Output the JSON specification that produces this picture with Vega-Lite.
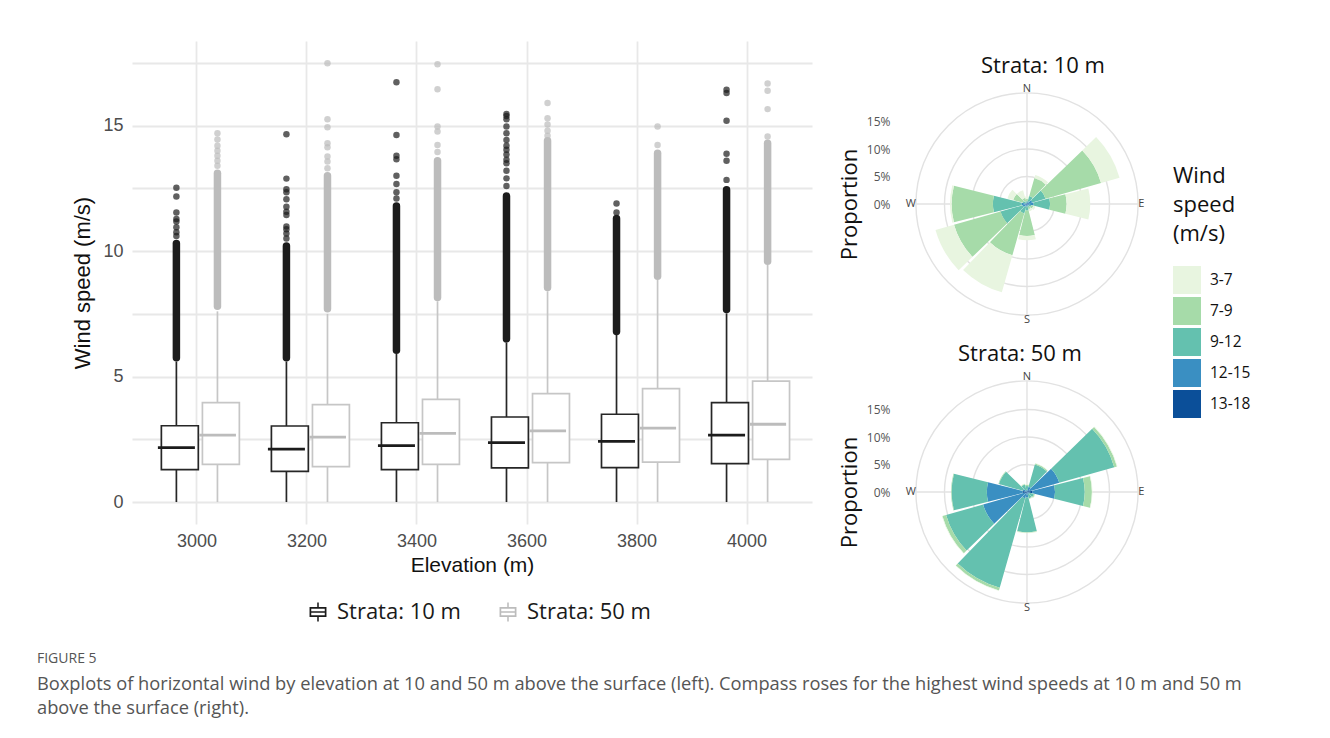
{
  "$schema": "https://vega.github.io/schema/vega-lite/v6.json",
  "background": "white",
  "padding": {"left": 36, "top": 38, "right": 5, "bottom": 5},
  "autosize": {"type": "pad"},
  "title": {
    "text": "FIGURE 5",
    "subtitle": ["Boxplots of horizontal wind by elevation at 10 and 50 m above the surface (left). Compass roses for the highest wind speeds at 10 m and 50 m", "above the surface (right)."],
    "orient": "bottom", "anchor": "start", "frame": "bounds", "dx": -35, "offset": 29,
    "font": "Open Sans", "fontSize": 14, "fontWeight": "normal", "color": "#555555",
    "subtitleFont": "Open Sans", "subtitleFontSize": 18.3, "subtitleColor": "#555555", "subtitleLineHeight": 24, "subtitlePadding": 10
  },
  "datasets": {
    "boxes": [
      {"elev": "3000", "strata": "Strata: 10 m", "lo": 0, "q1": 1.29, "med": 2.17, "q3": 3.04, "hi": 5.6, "dlo": 5.75, "dhi": 10.3},
      {"elev": "3000", "strata": "Strata: 50 m", "lo": 0, "q1": 1.50, "med": 2.67, "q3": 3.96, "hi": 7.6, "dlo": 7.8, "dhi": 13.1},
      {"elev": "3200", "strata": "Strata: 10 m", "lo": 0, "q1": 1.22, "med": 2.11, "q3": 3.03, "hi": 5.6, "dlo": 5.75, "dhi": 10.2},
      {"elev": "3200", "strata": "Strata: 50 m", "lo": 0, "q1": 1.41, "med": 2.59, "q3": 3.88, "hi": 7.5, "dlo": 7.7, "dhi": 13.0},
      {"elev": "3400", "strata": "Strata: 10 m", "lo": 0, "q1": 1.29, "med": 2.25, "q3": 3.16, "hi": 5.9, "dlo": 6.05, "dhi": 11.8},
      {"elev": "3400", "strata": "Strata: 50 m", "lo": 0, "q1": 1.50, "med": 2.74, "q3": 4.09, "hi": 8.0, "dlo": 8.15, "dhi": 13.6},
      {"elev": "3600", "strata": "Strata: 10 m", "lo": 0, "q1": 1.36, "med": 2.37, "q3": 3.39, "hi": 6.35, "dlo": 6.5, "dhi": 12.2},
      {"elev": "3600", "strata": "Strata: 50 m", "lo": 0, "q1": 1.57, "med": 2.84, "q3": 4.32, "hi": 8.4, "dlo": 8.55, "dhi": 14.4},
      {"elev": "3800", "strata": "Strata: 10 m", "lo": 0, "q1": 1.37, "med": 2.42, "q3": 3.5, "hi": 6.66, "dlo": 6.8, "dhi": 11.3},
      {"elev": "3800", "strata": "Strata: 50 m", "lo": 0, "q1": 1.59, "med": 2.95, "q3": 4.52, "hi": 8.85, "dlo": 9.0, "dhi": 13.9},
      {"elev": "4000", "strata": "Strata: 10 m", "lo": 0, "q1": 1.53, "med": 2.67, "q3": 3.96, "hi": 7.52, "dlo": 7.67, "dhi": 12.45},
      {"elev": "4000", "strata": "Strata: 50 m", "lo": 0, "q1": 1.70, "med": 3.1, "q3": 4.82, "hi": 9.45, "dlo": 9.6, "dhi": 14.3}
    ],
    "pts": [
      {"elev": "3000", "strata": "Strata: 10 m", "v": 10.6}, {"elev": "3000", "strata": "Strata: 10 m", "v": 10.75}, {"elev": "3000", "strata": "Strata: 10 m", "v": 10.95}, {"elev": "3000", "strata": "Strata: 10 m", "v": 11.18}, {"elev": "3000", "strata": "Strata: 10 m", "v": 11.28}, {"elev": "3000", "strata": "Strata: 10 m", "v": 11.54}, {"elev": "3000", "strata": "Strata: 10 m", "v": 12.18}, {"elev": "3000", "strata": "Strata: 10 m", "v": 12.53},
      {"elev": "3000", "strata": "Strata: 50 m", "v": 13.4}, {"elev": "3000", "strata": "Strata: 50 m", "v": 13.6}, {"elev": "3000", "strata": "Strata: 50 m", "v": 13.8}, {"elev": "3000", "strata": "Strata: 50 m", "v": 14.0}, {"elev": "3000", "strata": "Strata: 50 m", "v": 14.2}, {"elev": "3000", "strata": "Strata: 50 m", "v": 14.45}, {"elev": "3000", "strata": "Strata: 50 m", "v": 14.7},
      {"elev": "3200", "strata": "Strata: 10 m", "v": 10.5}, {"elev": "3200", "strata": "Strata: 10 m", "v": 10.7}, {"elev": "3200", "strata": "Strata: 10 m", "v": 10.87}, {"elev": "3200", "strata": "Strata: 10 m", "v": 10.98}, {"elev": "3200", "strata": "Strata: 10 m", "v": 11.44}, {"elev": "3200", "strata": "Strata: 10 m", "v": 11.57}, {"elev": "3200", "strata": "Strata: 10 m", "v": 11.77}, {"elev": "3200", "strata": "Strata: 10 m", "v": 12.07}, {"elev": "3200", "strata": "Strata: 10 m", "v": 12.35}, {"elev": "3200", "strata": "Strata: 10 m", "v": 12.47}, {"elev": "3200", "strata": "Strata: 10 m", "v": 12.89}, {"elev": "3200", "strata": "Strata: 10 m", "v": 14.66},
      {"elev": "3200", "strata": "Strata: 50 m", "v": 13.3}, {"elev": "3200", "strata": "Strata: 50 m", "v": 13.57}, {"elev": "3200", "strata": "Strata: 50 m", "v": 13.77}, {"elev": "3200", "strata": "Strata: 50 m", "v": 14.14}, {"elev": "3200", "strata": "Strata: 50 m", "v": 14.3}, {"elev": "3200", "strata": "Strata: 50 m", "v": 14.94}, {"elev": "3200", "strata": "Strata: 50 m", "v": 15.26}, {"elev": "3200", "strata": "Strata: 50 m", "v": 17.49},
      {"elev": "3400", "strata": "Strata: 10 m", "v": 12.1}, {"elev": "3400", "strata": "Strata: 10 m", "v": 12.35}, {"elev": "3400", "strata": "Strata: 10 m", "v": 12.68}, {"elev": "3400", "strata": "Strata: 10 m", "v": 13.0}, {"elev": "3400", "strata": "Strata: 10 m", "v": 13.66}, {"elev": "3400", "strata": "Strata: 10 m", "v": 13.8}, {"elev": "3400", "strata": "Strata: 10 m", "v": 14.63}, {"elev": "3400", "strata": "Strata: 10 m", "v": 16.73},
      {"elev": "3400", "strata": "Strata: 50 m", "v": 13.95}, {"elev": "3400", "strata": "Strata: 50 m", "v": 14.23}, {"elev": "3400", "strata": "Strata: 50 m", "v": 14.77}, {"elev": "3400", "strata": "Strata: 50 m", "v": 14.97}, {"elev": "3400", "strata": "Strata: 50 m", "v": 16.45}, {"elev": "3400", "strata": "Strata: 50 m", "v": 17.45},
      {"elev": "3600", "strata": "Strata: 10 m", "v": 12.6}, {"elev": "3600", "strata": "Strata: 10 m", "v": 12.9}, {"elev": "3600", "strata": "Strata: 10 m", "v": 13.2}, {"elev": "3600", "strata": "Strata: 10 m", "v": 13.5}, {"elev": "3600", "strata": "Strata: 10 m", "v": 13.64}, {"elev": "3600", "strata": "Strata: 10 m", "v": 13.85}, {"elev": "3600", "strata": "Strata: 10 m", "v": 14.04}, {"elev": "3600", "strata": "Strata: 10 m", "v": 14.2}, {"elev": "3600", "strata": "Strata: 10 m", "v": 14.43}, {"elev": "3600", "strata": "Strata: 10 m", "v": 14.7}, {"elev": "3600", "strata": "Strata: 10 m", "v": 14.97}, {"elev": "3600", "strata": "Strata: 10 m", "v": 15.26}, {"elev": "3600", "strata": "Strata: 10 m", "v": 15.39}, {"elev": "3600", "strata": "Strata: 10 m", "v": 15.47},
      {"elev": "3600", "strata": "Strata: 50 m", "v": 14.6}, {"elev": "3600", "strata": "Strata: 50 m", "v": 14.8}, {"elev": "3600", "strata": "Strata: 50 m", "v": 15.05}, {"elev": "3600", "strata": "Strata: 50 m", "v": 15.3}, {"elev": "3600", "strata": "Strata: 50 m", "v": 15.9},
      {"elev": "3800", "strata": "Strata: 10 m", "v": 11.54}, {"elev": "3800", "strata": "Strata: 10 m", "v": 11.9},
      {"elev": "3800", "strata": "Strata: 50 m", "v": 14.23}, {"elev": "3800", "strata": "Strata: 50 m", "v": 14.97},
      {"elev": "4000", "strata": "Strata: 10 m", "v": 12.84}, {"elev": "4000", "strata": "Strata: 10 m", "v": 13.6}, {"elev": "4000", "strata": "Strata: 10 m", "v": 13.88}, {"elev": "4000", "strata": "Strata: 10 m", "v": 15.2}, {"elev": "4000", "strata": "Strata: 10 m", "v": 16.3}, {"elev": "4000", "strata": "Strata: 10 m", "v": 16.43},
      {"elev": "4000", "strata": "Strata: 50 m", "v": 14.57}, {"elev": "4000", "strata": "Strata: 50 m", "v": 15.66}, {"elev": "4000", "strata": "Strata: 50 m", "v": 16.39}, {"elev": "4000", "strata": "Strata: 50 m", "v": 16.68}
    ],
    "rose": [
      {"strata": "10 m", "dir": 0, "speed": "13-18", "k": 5, "pct": 0.0}, {"strata": "10 m", "dir": 0, "speed": "12-15", "k": 4, "pct": 0.2}, {"strata": "10 m", "dir": 0, "speed": "9-12", "k": 3, "pct": 0.3}, {"strata": "10 m", "dir": 0, "speed": "7-9", "k": 2, "pct": 0.4}, {"strata": "10 m", "dir": 0, "speed": "3-7", "k": 1, "pct": 0.5},
      {"strata": "10 m", "dir": 30, "speed": "13-18", "k": 5, "pct": 0.1}, {"strata": "10 m", "dir": 30, "speed": "12-15", "k": 4, "pct": 0.4}, {"strata": "10 m", "dir": 30, "speed": "9-12", "k": 3, "pct": 1.0}, {"strata": "10 m", "dir": 30, "speed": "7-9", "k": 2, "pct": 3.4}, {"strata": "10 m", "dir": 30, "speed": "3-7", "k": 1, "pct": 0.6},
      {"strata": "10 m", "dir": 60, "speed": "13-18", "k": 5, "pct": 0.2}, {"strata": "10 m", "dir": 60, "speed": "12-15", "k": 4, "pct": 0.8}, {"strata": "10 m", "dir": 60, "speed": "9-12", "k": 3, "pct": 2.5}, {"strata": "10 m", "dir": 60, "speed": "7-9", "k": 2, "pct": 10.5}, {"strata": "10 m", "dir": 60, "speed": "3-7", "k": 1, "pct": 3.5},
      {"strata": "10 m", "dir": 90, "speed": "13-18", "k": 5, "pct": 0.3}, {"strata": "10 m", "dir": 90, "speed": "12-15", "k": 4, "pct": 0.9}, {"strata": "10 m", "dir": 90, "speed": "9-12", "k": 3, "pct": 3.0}, {"strata": "10 m", "dir": 90, "speed": "7-9", "k": 2, "pct": 3.0}, {"strata": "10 m", "dir": 90, "speed": "3-7", "k": 1, "pct": 4.3},
      {"strata": "10 m", "dir": 120, "speed": "13-18", "k": 5, "pct": 0.1}, {"strata": "10 m", "dir": 120, "speed": "12-15", "k": 4, "pct": 0.3}, {"strata": "10 m", "dir": 120, "speed": "9-12", "k": 3, "pct": 0.4}, {"strata": "10 m", "dir": 120, "speed": "7-9", "k": 2, "pct": 0.4}, {"strata": "10 m", "dir": 120, "speed": "3-7", "k": 1, "pct": 0.4},
      {"strata": "10 m", "dir": 150, "speed": "13-18", "k": 5, "pct": 0.1}, {"strata": "10 m", "dir": 150, "speed": "12-15", "k": 4, "pct": 0.2}, {"strata": "10 m", "dir": 150, "speed": "9-12", "k": 3, "pct": 0.3}, {"strata": "10 m", "dir": 150, "speed": "7-9", "k": 2, "pct": 0.4}, {"strata": "10 m", "dir": 150, "speed": "3-7", "k": 1, "pct": 0.4},
      {"strata": "10 m", "dir": 180, "speed": "13-18", "k": 5, "pct": 0.1}, {"strata": "10 m", "dir": 180, "speed": "12-15", "k": 4, "pct": 0.3}, {"strata": "10 m", "dir": 180, "speed": "9-12", "k": 3, "pct": 0.8}, {"strata": "10 m", "dir": 180, "speed": "7-9", "k": 2, "pct": 4.6}, {"strata": "10 m", "dir": 180, "speed": "3-7", "k": 1, "pct": 0.8},
      {"strata": "10 m", "dir": 210, "speed": "13-18", "k": 5, "pct": 0.1}, {"strata": "10 m", "dir": 210, "speed": "12-15", "k": 4, "pct": 0.4}, {"strata": "10 m", "dir": 210, "speed": "9-12", "k": 3, "pct": 1.3}, {"strata": "10 m", "dir": 210, "speed": "7-9", "k": 2, "pct": 7.9}, {"strata": "10 m", "dir": 210, "speed": "3-7", "k": 1, "pct": 7.0},
      {"strata": "10 m", "dir": 240, "speed": "13-18", "k": 5, "pct": 0.2}, {"strata": "10 m", "dir": 240, "speed": "12-15", "k": 4, "pct": 0.6}, {"strata": "10 m", "dir": 240, "speed": "9-12", "k": 3, "pct": 4.2}, {"strata": "10 m", "dir": 240, "speed": "7-9", "k": 2, "pct": 8.8}, {"strata": "10 m", "dir": 240, "speed": "3-7", "k": 1, "pct": 3.5},
      {"strata": "10 m", "dir": 270, "speed": "13-18", "k": 5, "pct": 0.2}, {"strata": "10 m", "dir": 270, "speed": "12-15", "k": 4, "pct": 0.8}, {"strata": "10 m", "dir": 270, "speed": "9-12", "k": 3, "pct": 5.2}, {"strata": "10 m", "dir": 270, "speed": "7-9", "k": 2, "pct": 7.5}, {"strata": "10 m", "dir": 270, "speed": "3-7", "k": 1, "pct": 0.3},
      {"strata": "10 m", "dir": 300, "speed": "13-18", "k": 5, "pct": 0.1}, {"strata": "10 m", "dir": 300, "speed": "12-15", "k": 4, "pct": 0.2}, {"strata": "10 m", "dir": 300, "speed": "9-12", "k": 3, "pct": 0.5}, {"strata": "10 m", "dir": 300, "speed": "7-9", "k": 2, "pct": 1.8}, {"strata": "10 m", "dir": 300, "speed": "3-7", "k": 1, "pct": 1.1},
      {"strata": "10 m", "dir": 330, "speed": "13-18", "k": 5, "pct": 0.0}, {"strata": "10 m", "dir": 330, "speed": "12-15", "k": 4, "pct": 0.2}, {"strata": "10 m", "dir": 330, "speed": "9-12", "k": 3, "pct": 0.3}, {"strata": "10 m", "dir": 330, "speed": "7-9", "k": 2, "pct": 0.7}, {"strata": "10 m", "dir": 330, "speed": "3-7", "k": 1, "pct": 1.4},
      {"strata": "50 m", "dir": 0, "speed": "13-18", "k": 5, "pct": 0.1}, {"strata": "50 m", "dir": 0, "speed": "12-15", "k": 4, "pct": 0.2}, {"strata": "50 m", "dir": 0, "speed": "9-12", "k": 3, "pct": 0.8}, {"strata": "50 m", "dir": 0, "speed": "7-9", "k": 2, "pct": 0.2}, {"strata": "50 m", "dir": 0, "speed": "3-7", "k": 1, "pct": 0.1},
      {"strata": "50 m", "dir": 30, "speed": "13-18", "k": 5, "pct": 0.2}, {"strata": "50 m", "dir": 30, "speed": "12-15", "k": 4, "pct": 0.8}, {"strata": "50 m", "dir": 30, "speed": "9-12", "k": 3, "pct": 4.2}, {"strata": "50 m", "dir": 30, "speed": "7-9", "k": 2, "pct": 0.2}, {"strata": "50 m", "dir": 30, "speed": "3-7", "k": 1, "pct": 0.1},
      {"strata": "50 m", "dir": 60, "speed": "13-18", "k": 5, "pct": 0.5}, {"strata": "50 m", "dir": 60, "speed": "12-15", "k": 4, "pct": 5.6}, {"strata": "50 m", "dir": 60, "speed": "9-12", "k": 3, "pct": 10.4}, {"strata": "50 m", "dir": 60, "speed": "7-9", "k": 2, "pct": 0.5}, {"strata": "50 m", "dir": 60, "speed": "3-7", "k": 1, "pct": 0.1},
      {"strata": "50 m", "dir": 90, "speed": "13-18", "k": 5, "pct": 1.0}, {"strata": "50 m", "dir": 90, "speed": "12-15", "k": 4, "pct": 4.1}, {"strata": "50 m", "dir": 90, "speed": "9-12", "k": 3, "pct": 5.4}, {"strata": "50 m", "dir": 90, "speed": "7-9", "k": 2, "pct": 1.3}, {"strata": "50 m", "dir": 90, "speed": "3-7", "k": 1, "pct": 0.1},
      {"strata": "50 m", "dir": 120, "speed": "13-18", "k": 5, "pct": 0.1}, {"strata": "50 m", "dir": 120, "speed": "12-15", "k": 4, "pct": 0.4}, {"strata": "50 m", "dir": 120, "speed": "9-12", "k": 3, "pct": 0.8}, {"strata": "50 m", "dir": 120, "speed": "7-9", "k": 2, "pct": 0.2}, {"strata": "50 m", "dir": 120, "speed": "3-7", "k": 1, "pct": 0.1},
      {"strata": "50 m", "dir": 150, "speed": "13-18", "k": 5, "pct": 0.1}, {"strata": "50 m", "dir": 150, "speed": "12-15", "k": 4, "pct": 0.3}, {"strata": "50 m", "dir": 150, "speed": "9-12", "k": 3, "pct": 0.8}, {"strata": "50 m", "dir": 150, "speed": "7-9", "k": 2, "pct": 0.1}, {"strata": "50 m", "dir": 150, "speed": "3-7", "k": 1, "pct": 0.1},
      {"strata": "50 m", "dir": 180, "speed": "13-18", "k": 5, "pct": 0.2}, {"strata": "50 m", "dir": 180, "speed": "12-15", "k": 4, "pct": 0.8}, {"strata": "50 m", "dir": 180, "speed": "9-12", "k": 3, "pct": 6.3}, {"strata": "50 m", "dir": 180, "speed": "7-9", "k": 2, "pct": 0.1}, {"strata": "50 m", "dir": 180, "speed": "3-7", "k": 1, "pct": 0.1},
      {"strata": "50 m", "dir": 210, "speed": "13-18", "k": 5, "pct": 0.3}, {"strata": "50 m", "dir": 210, "speed": "12-15", "k": 4, "pct": 0.9}, {"strata": "50 m", "dir": 210, "speed": "9-12", "k": 3, "pct": 16.9}, {"strata": "50 m", "dir": 210, "speed": "7-9", "k": 2, "pct": 0.5}, {"strata": "50 m", "dir": 210, "speed": "3-7", "k": 1, "pct": 0.1},
      {"strata": "50 m", "dir": 240, "speed": "13-18", "k": 5, "pct": 0.4}, {"strata": "50 m", "dir": 240, "speed": "12-15", "k": 4, "pct": 7.9}, {"strata": "50 m", "dir": 240, "speed": "9-12", "k": 3, "pct": 7.0}, {"strata": "50 m", "dir": 240, "speed": "7-9", "k": 2, "pct": 0.7}, {"strata": "50 m", "dir": 240, "speed": "3-7", "k": 1, "pct": 0.1},
      {"strata": "50 m", "dir": 270, "speed": "13-18", "k": 5, "pct": 0.8}, {"strata": "50 m", "dir": 270, "speed": "12-15", "k": 4, "pct": 6.5}, {"strata": "50 m", "dir": 270, "speed": "9-12", "k": 3, "pct": 6.4}, {"strata": "50 m", "dir": 270, "speed": "7-9", "k": 2, "pct": 0.1}, {"strata": "50 m", "dir": 270, "speed": "3-7", "k": 1, "pct": 0.0},
      {"strata": "50 m", "dir": 300, "speed": "13-18", "k": 5, "pct": 0.1}, {"strata": "50 m", "dir": 300, "speed": "12-15", "k": 4, "pct": 0.7}, {"strata": "50 m", "dir": 300, "speed": "9-12", "k": 3, "pct": 4.5}, {"strata": "50 m", "dir": 300, "speed": "7-9", "k": 2, "pct": 0.1}, {"strata": "50 m", "dir": 300, "speed": "3-7", "k": 1, "pct": 0.0},
      {"strata": "50 m", "dir": 330, "speed": "13-18", "k": 5, "pct": 0.1}, {"strata": "50 m", "dir": 330, "speed": "12-15", "k": 4, "pct": 0.3}, {"strata": "50 m", "dir": 330, "speed": "9-12", "k": 3, "pct": 1.0}, {"strata": "50 m", "dir": 330, "speed": "7-9", "k": 2, "pct": 0.1}, {"strata": "50 m", "dir": 330, "speed": "3-7", "k": 1, "pct": 0.1}
    ],
    "rings": [{"ring": 5}, {"ring": 10}, {"ring": 15}, {"ring": 20.2}],
    "spokes": [{"xa": 0, "ya": -20.2, "xb": 0, "yb": 20.2}, {"xa": -20.2, "ya": 0, "xb": 20.2, "yb": 0}],
    "compass": [{"lab": "N", "cx": 0, "cy": 21.0}, {"lab": "E", "cx": 20.8, "cy": 0}, {"lab": "S", "cx": 0, "cy": -21.0}, {"lab": "W", "cx": -21.1, "cy": 0}]
  },
  "spacing": 26,
  "resolve": {
    "scale": {"color": "independent", "stroke": "independent"},
    "legend": {"color": "independent", "stroke": "independent"}
  },
  "hconcat": [
    {
      "width": 680,
      "height": 483,
      "encoding": {
        "x": {"field": "elev", "type": "ordinal", "scale": {"paddingInner": 0, "paddingOuter": 0.09},
          "axis": {"bandPosition": 0.5, "grid": true, "gridColor": "#e8e8e8", "gridWidth": 1.8, "ticks": false, "domain": false, "labelAngle": 0,
            "labelFont": "Liberation Sans", "labelFontSize": 18, "labelColor": "#4d4d4d", "labelPadding": 8,
            "titleFont": "Liberation Sans", "titleFontSize": 21, "titleFontWeight": "normal", "titleColor": "#111111", "titlePadding": 4},
          "title": "Elevation (m)"},
        "xOffset": {"field": "strata", "type": "nominal", "scale": {"paddingInner": 0, "paddingOuter": 0.34}}
      },
      "layer": [
        {
          "data": {"name": "boxes"},
          "mark": {"type": "rule", "strokeWidth": 1.7},
          "encoding": {
            "y": {"field": "lo", "type": "quantitative", "title": "Wind speed (m/s)",
              "scale": {"domain": [-0.875, 18.375], "nice": false, "zero": false},
              "axis": {"values": [0, 2.5, 5, 7.5, 10, 12.5, 15, 17.5], "labelExpr": "datum.value % 5 === 0 ? datum.label : ''",
                "grid": true, "gridColor": "#e8e8e8", "gridWidth": 1.8, "ticks": false, "domain": false,
                "labelFont": "Liberation Sans", "labelFontSize": 18, "labelColor": "#4d4d4d", "labelPadding": 9,
                "titleFont": "Liberation Sans", "titleFontSize": 22, "titleFontWeight": "normal", "titleColor": "#111111", "titlePadding": 8}},
            "y2": {"field": "hi"},
            "stroke": {"field": "strata", "type": "nominal",
              "scale": {"domain": ["Strata: 10 m", "Strata: 50 m"], "range": ["#262626", "#c6c6c6"]},
              "legend": {"orient": "none", "legendX": 175, "legendY": 560, "direction": "horizontal", "title": null,
                "symbolType": "M-0.77,-0.45L0.77,-0.45L0.77,0.45L-0.77,0.45Z M-0.615,-0.295L-0.615,0.295L0.615,0.295L0.615,-0.295Z M-0.615,-0.075L0.615,-0.075L0.615,0.075L-0.615,0.075Z M-0.07,-0.86L0.07,-0.86L0.07,-0.45L-0.07,-0.45Z M-0.07,0.45L0.07,0.45L0.07,0.86L-0.07,0.86Z",
                "symbolSize": 484, "symbolStrokeWidth": 0,
                "labelFont": "Open Sans", "labelFontSize": 22, "labelColor": "#1a1a1a", "labelOffset": 8, "columnPadding": 36}}
          }
        },
        {
          "data": {"name": "boxes"},
          "mark": {"type": "bar", "fill": "white", "strokeWidth": 1.7, "width": {"band": 0.9}},
          "encoding": {
            "y": {"field": "q1", "type": "quantitative", "title": "Wind speed (m/s)"},
            "y2": {"field": "q3"},
            "stroke": {"field": "strata", "type": "nominal"}
          }
        },
        {
          "data": {"name": "boxes"},
          "mark": {"type": "tick", "thickness": 2.8, "size": 37, "opacity": 1},
          "encoding": {
            "y": {"field": "med", "type": "quantitative", "title": "Wind speed (m/s)"},
            "color": {"field": "strata", "type": "nominal", "legend": null,
              "scale": {"domain": ["Strata: 10 m", "Strata: 50 m"], "range": ["#1c1c1c", "#bcbcbc"]}}
          }
        },
        {
          "data": {"name": "boxes"},
          "mark": {"type": "rule", "strokeWidth": 7.5, "strokeCap": "round"},
          "encoding": {
            "y": {"field": "dlo", "type": "quantitative", "title": "Wind speed (m/s)"},
            "y2": {"field": "dhi"},
            "color": {"field": "strata", "type": "nominal", "legend": null}
          }
        },
        {
          "data": {"name": "pts"},
          "mark": {"type": "circle", "size": 42, "opacity": 0.7},
          "encoding": {
            "y": {"field": "v", "type": "quantitative", "title": "Wind speed (m/s)"},
            "color": {"field": "strata", "type": "nominal", "legend": null}
          }
        }
      ]
    },
    {
      "spacing": 9,
      "vconcat": [
        {
          "width": 242,
          "height": 1,
          "data": {"values": [{"a": 0}]},
          "mark": {"type": "point", "opacity": 0},
          "encoding": {}
        },
        {
          "spacing": 17,
          "vconcat": [
            {
              "width": 242,
              "height": 242,
              "title": {"text": "Strata: 10 m", "font": "Open Sans", "fontSize": 22, "fontWeight": "normal", "color": "#111111", "offset": 5, "anchor": "middle", "dx": 16},
              "layer": [
                {
                  "data": {"name": "rings"},
                  "mark": {"type": "arc", "theta": 0, "theta2": 6.2832, "filled": false, "stroke": "#e2e2e2", "strokeWidth": 1.4},
                  "encoding": {"radius": {"field": "ring", "type": "quantitative", "stack": null, "scale": {"type": "linear", "domain": [0, 22], "range": [0, 121], "zero": true, "nice": false}}}
                },
                {
                  "data": {"name": "spokes"},
                  "mark": {"type": "rule", "color": "#e2e2e2", "strokeWidth": 1.4},
                  "encoding": {
                    "x": {"field": "xa", "type": "quantitative", "scale": {"domain": [-22, 22], "nice": false, "zero": false}, "axis": null},
                    "y": {"field": "ya", "type": "quantitative", "scale": {"domain": [-22, 22], "nice": false, "zero": false},
                      "axis": {"values": [0, 5, 10, 15], "labelExpr": "datum.value + '%'", "domain": false, "ticks": false, "grid": false,
                        "labelFont": "Open Sans", "labelFontSize": 12, "labelColor": "#555555", "labelPadding": 16,
                        "titleFont": "Open Sans", "titleFontSize": 22, "titleFontWeight": "normal", "titleColor": "#111111", "titlePadding": 5},
                      "title": "Proportion"},
                    "x2": {"field": "xb"},
                    "y2": {"field": "yb"}
                  }
                },
                {
                  "data": {"name": "rose"},
                  "transform": [
                    {"filter": "datum.strata === '10 m'"},
                    {"stack": "pct", "groupby": ["dir"], "sort": [{"field": "k", "order": "descending"}], "as": ["r0", "r1"]}
                  ],
                  "mark": {"type": "arc"},
                  "encoding": {
                    "theta": {"field": "dir", "type": "ordinal", "scale": {"type": "band", "domain": [0, 30, 60, 90, 120, 150, 180, 210, 240, 270, 300, 330], "range": [-0.2618, 6.0214], "paddingInner": 0.06, "paddingOuter": 0.03}},
                    "radius": {"field": "r1", "type": "quantitative", "stack": null},
                    "radius2": {"field": "r0"},
                    "fill": {"field": "speed", "type": "nominal",
                      "scale": {"domain": ["3-7", "7-9", "9-12", "12-15", "13-18"], "range": ["#e8f5e0", "#a6dba9", "#64c1af", "#3a8fc2", "#0b4f99"]},
                      "legend": {"orient": "none", "legendX": 1041, "legendY": 125, "title": ["Wind", "speed", "(m/s)"],
                        "titleFont": "Open Sans", "titleFontSize": 22, "titleFontWeight": "normal", "titleColor": "#111111", "titleLineHeight": 29, "titlePadding": 20,
                        "symbolType": "square", "symbolSize": 784, "symbolStrokeWidth": 0,
                        "labelFont": "Open Sans", "labelFontSize": 15.5, "labelColor": "#111111", "labelOffset": 9, "rowPadding": 3}}
                  }
                },
                {
                  "data": {"name": "compass"},
                  "mark": {"type": "text", "font": "Open Sans", "fontSize": 11, "color": "#444444", "baseline": "middle", "align": "center"},
                  "encoding": {
                    "x": {"field": "cx", "type": "quantitative"},
                    "y": {"field": "cy", "type": "quantitative"},
                    "text": {"field": "lab"}
                  }
                }
              ]
            },
            {
              "width": 242,
              "height": 242,
              "title": {"text": "Strata: 50 m", "font": "Open Sans", "fontSize": 22, "fontWeight": "normal", "color": "#111111", "offset": 5, "anchor": "middle", "dx": -7},
              "layer": [
                {
                  "data": {"name": "rings"},
                  "mark": {"type": "arc", "theta": 0, "theta2": 6.2832, "filled": false, "stroke": "#e2e2e2", "strokeWidth": 1.4},
                  "encoding": {"radius": {"field": "ring", "type": "quantitative", "stack": null, "scale": {"type": "linear", "domain": [0, 22], "range": [0, 121], "zero": true, "nice": false}}}
                },
                {
                  "data": {"name": "spokes"},
                  "mark": {"type": "rule", "color": "#e2e2e2", "strokeWidth": 1.4},
                  "encoding": {
                    "x": {"field": "xa", "type": "quantitative", "scale": {"domain": [-22, 22], "nice": false, "zero": false}, "axis": null},
                    "y": {"field": "ya", "type": "quantitative", "scale": {"domain": [-22, 22], "nice": false, "zero": false},
                      "axis": {"values": [0, 5, 10, 15], "labelExpr": "datum.value + '%'", "domain": false, "ticks": false, "grid": false,
                        "labelFont": "Open Sans", "labelFontSize": 12, "labelColor": "#555555", "labelPadding": 16,
                        "titleFont": "Open Sans", "titleFontSize": 22, "titleFontWeight": "normal", "titleColor": "#111111", "titlePadding": 5},
                      "title": "Proportion"},
                    "x2": {"field": "xb"},
                    "y2": {"field": "yb"}
                  }
                },
                {
                  "data": {"name": "rose"},
                  "transform": [
                    {"filter": "datum.strata === '50 m'"},
                    {"stack": "pct", "groupby": ["dir"], "sort": [{"field": "k", "order": "descending"}], "as": ["r0", "r1"]}
                  ],
                  "mark": {"type": "arc"},
                  "encoding": {
                    "theta": {"field": "dir", "type": "ordinal", "scale": {"type": "band", "domain": [0, 30, 60, 90, 120, 150, 180, 210, 240, 270, 300, 330], "range": [-0.2618, 6.0214], "paddingInner": 0.06, "paddingOuter": 0.03}},
                    "radius": {"field": "r1", "type": "quantitative", "stack": null},
                    "radius2": {"field": "r0"},
                    "fill": {"field": "speed", "type": "nominal"}
                  }
                },
                {
                  "data": {"name": "compass"},
                  "mark": {"type": "text", "font": "Open Sans", "fontSize": 11, "color": "#444444", "baseline": "middle", "align": "center"},
                  "encoding": {
                    "x": {"field": "cx", "type": "quantitative"},
                    "y": {"field": "cy", "type": "quantitative"},
                    "text": {"field": "lab"}
                  }
                }
              ]
            }
          ]
        }
      ]
    }
  ],
  "config": {
    "font": "Liberation Sans",
    "view": {"stroke": null}
  }
}
